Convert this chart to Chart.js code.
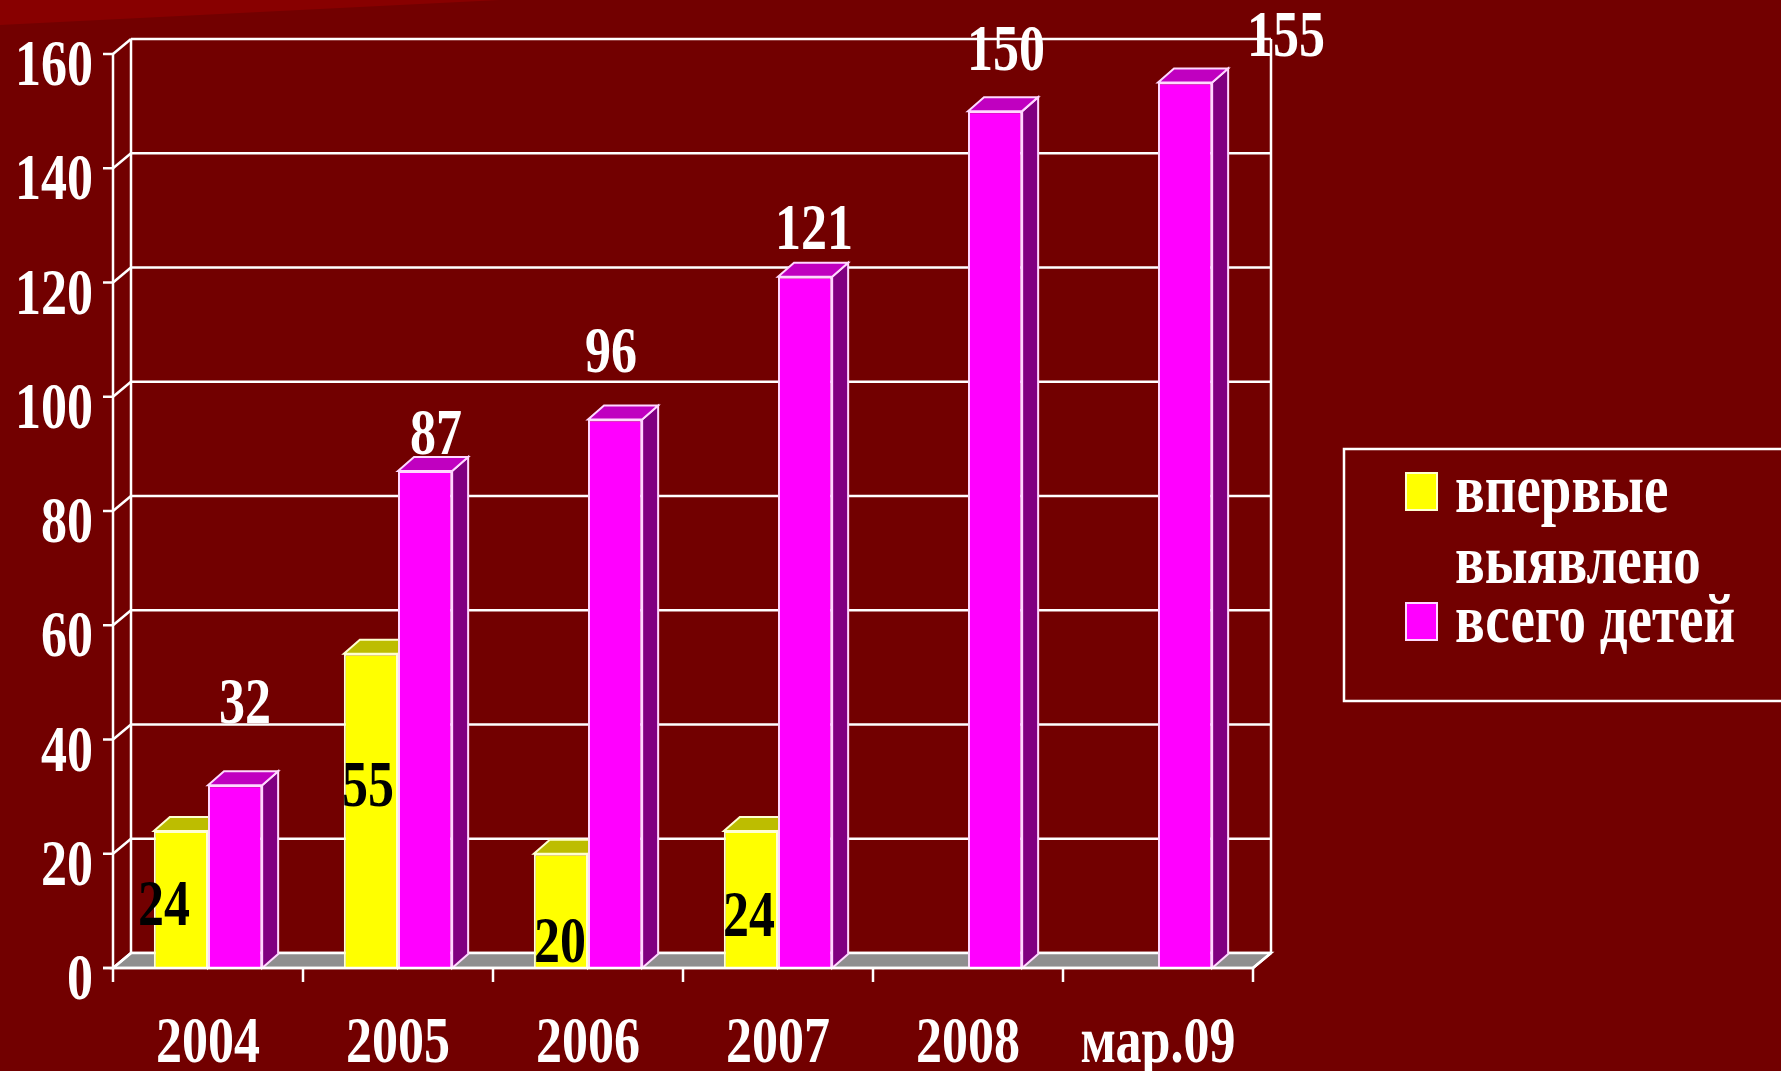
<!DOCTYPE html>
<html>
<head>
<meta charset="utf-8">
<script src="https://cdn.jsdelivr.net/npm/chart.js@4.4.1/dist/chart.umd.min.js"></script>
<style>
  html, body { margin: 0; padding: 0; background: #720000; overflow: hidden; }
</style>
</head>
<body>
<canvas id="chart" width="1781" height="1071"></canvas>
<script>
// Daten aus der Folie
const categories = ['2004', '2005', '2006', '2007', '2008', 'мар.09'];
const firstTime = [24, 55, 20, 24, null, null];      // впервые выявлено
const totalKids = [32, 87, 96, 121, 150, 155];       // всего детей
const yTicks = [0, 20, 40, 60, 80, 100, 120, 140, 160];
const legendLines = [['впервые', 'выявлено'], ['всего детей']];

// Optik
const BG = '#720000', WEDGE = '#880000';
const FONT = 'bold 52px "Liberation Serif", "Times New Roman", serif';
const LEGEND_FONT = 'bold 55px "Liberation Serif", "Times New Roman", serif';
const STRETCH = 1.28; // Schrift der Folie ist vertikal gestreckt
const WALL = { dx: 18, dy: 15 }, BAR = { dx: 16, dy: 14 };
const seriesStyle = [
  { front: '#ffff00', top: '#bdbd00', side: '#8f8f00', edge: '#ffffd0', label: '#000000' },
  { front: '#ff00ff', top: '#c000c0', side: '#800080', edge: '#ffd8ff', label: '#ffffff' }
];
// Versatz der Wertbeschriftungen relativ zur Balkenoberkante (wie in der Vorlage verschoben)
const labelShift = [
  [[-17, 94], [-3, 152], [-1, 108], [-2, 105], null, null],
  [[10, -62], [11, -17], [-4, -48], [9, -28], [11, -41], [101, -27]]
];

function txt(ctx, s, x, y, color, align, font) {
  ctx.save();
  ctx.translate(x, y);
  ctx.scale(1, STRETCH);
  ctx.font = font || FONT;
  ctx.fillStyle = color;
  ctx.textAlign = align || 'center';
  ctx.textBaseline = 'alphabetic';
  ctx.fillText(s, 0, 0);
  ctx.restore();
}

function poly(ctx, pts, fill, stroke, lw) {
  ctx.beginPath();
  ctx.moveTo(pts[0][0], pts[0][1]);
  for (let i = 1; i < pts.length; i++) ctx.lineTo(pts[i][0], pts[i][1]);
  ctx.closePath();
  if (fill) { ctx.fillStyle = fill; ctx.fill(); }
  if (stroke) { ctx.strokeStyle = stroke; ctx.lineWidth = lw || 2; ctx.stroke(); }
}

function line(ctx, x1, y1, x2, y2) {
  ctx.beginPath();
  ctx.moveTo(x1, y1);
  ctx.lineTo(x2, y2);
  ctx.stroke();
}

const slidePlugin = {
  id: 'slide',
  beforeDraw(chart) {
    const ctx = chart.ctx;
    ctx.save();
    ctx.fillStyle = BG;
    ctx.fillRect(0, 0, chart.width, chart.height);
    poly(ctx, [[0, 0], [500, 0], [0, 25]], WEDGE);
    ctx.restore();
  },
  beforeDatasetsDraw(chart) {
    const ctx = chart.ctx, a = chart.chartArea, ys = chart.scales.y;
    ctx.save();
    ctx.strokeStyle = '#ffffff';
    ctx.lineWidth = 2.5;
    // Rückwand mit Gitterlinien
    yTicks.forEach(v => {
      const py = ys.getPixelForValue(v) - WALL.dy;
      line(ctx, a.left + WALL.dx, py, a.right + WALL.dx, py);
    });
    line(ctx, a.left + WALL.dx, a.top - WALL.dy, a.left + WALL.dx, a.bottom - WALL.dy);
    line(ctx, a.right + WALL.dx, a.top - WALL.dy, a.right + WALL.dx, a.bottom - WALL.dy);
    // Boden
    poly(ctx, [[a.left, a.bottom], [a.right, a.bottom], [a.right + WALL.dx, a.bottom - WALL.dy],
      [a.left + WALL.dx, a.bottom - WALL.dy]], '#8f8f8f', '#ffffff', 2.5);
    // 3D-Flächen der Balken (Vorderseite zeichnet Chart.js danach)
    chart.data.datasets.forEach((ds, di) => {
      const st = seriesStyle[di];
      chart.getDatasetMeta(di).data.forEach((el, i) => {
        if (ds.data[i] == null || isNaN(el.y)) return;
        const l = el.x - el.width / 2, r = el.x + el.width / 2, t = el.y, b = el.base;
        poly(ctx, [[r, t], [r + BAR.dx, t - BAR.dy], [r + BAR.dx, b - BAR.dy], [r, b]], st.side, st.edge, 2);
        poly(ctx, [[l, t], [r, t], [r + BAR.dx, t - BAR.dy], [l + BAR.dx, t - BAR.dy]], st.top, st.edge, 2);
      });
    });
    ctx.restore();
  },
  afterDatasetsDraw(chart) {
    const ctx = chart.ctx, a = chart.chartArea, xs = chart.scales.x, ys = chart.scales.y;
    ctx.save();
    ctx.strokeStyle = '#ffffff';
    ctx.lineWidth = 2.5;
    // vordere Achsen
    line(ctx, a.left, a.top, a.left, a.bottom);
    line(ctx, a.left - 10, a.bottom, a.right, a.bottom);
    yTicks.forEach(v => {
      const py = ys.getPixelForValue(v);
      line(ctx, a.left - 10, py, a.left, py);
      line(ctx, a.left, py, a.left + WALL.dx, py - WALL.dy);
      txt(ctx, String(v), a.left - 20, py + 31, '#ffffff', 'right');
    });
    const step = (a.right - a.left) / categories.length;
    for (let i = 0; i <= categories.length; i++) {
      const px = a.left + i * step;
      line(ctx, px, a.bottom, px, a.bottom + 14);
    }
    line(ctx, a.right, a.bottom, a.right + WALL.dx, a.bottom - WALL.dy);
    categories.forEach((c, i) => txt(ctx, c, xs.getPixelForValue(i), a.bottom + 94, '#ffffff'));

    // Wertbeschriftungen
    chart.data.datasets.forEach((ds, di) => {
      chart.getDatasetMeta(di).data.forEach((el, i) => {
        const sh = labelShift[di][i];
        if (ds.data[i] == null || !sh) return;
        txt(ctx, String(ds.data[i]), el.x + sh[0], el.y + sh[1], seriesStyle[di].label);
      });
    });

    // Legende
    ctx.strokeStyle = '#ffffff';
    ctx.strokeRect(1344, 449, 460, 252);
    const rows = [[473, [512, 583]], [603, [642]]];
    rows.forEach((row, di) => {
      ctx.fillStyle = seriesStyle[di].front;
      ctx.fillRect(1406, row[0], 31, 37);
      ctx.strokeStyle = seriesStyle[di].edge;
      ctx.lineWidth = 2;
      ctx.strokeRect(1406, row[0], 31, 37);
      legendLines[di].forEach((s, k) => txt(ctx, s, 1455, row[1][k], '#ffffff', 'left', LEGEND_FONT));
    });
    ctx.restore();
  }
};

new Chart(document.getElementById('chart'), {
  type: 'bar',
  data: {
    labels: categories,
    datasets: [
      { label: legendLines[0].join(' '), data: firstTime, backgroundColor: seriesStyle[0].front,
        borderColor: seriesStyle[0].edge, borderWidth: 2, barPercentage: 1, categoryPercentage: 0.57 },
      { label: legendLines[1].join(' '), data: totalKids, backgroundColor: seriesStyle[1].front,
        borderColor: seriesStyle[1].edge, borderWidth: 2, barPercentage: 1, categoryPercentage: 0.57 }
    ]
  },
  options: {
    responsive: false,
    animation: false,
    layout: { padding: { left: 113, right: 528, top: 54, bottom: 103 } },
    plugins: { legend: { display: false }, tooltip: { enabled: false } },
    scales: {
      x: { display: false, offset: true },
      y: { display: false, min: 0, max: 160 }
    }
  },
  plugins: [slidePlugin]
});
</script>
</body>
</html>
